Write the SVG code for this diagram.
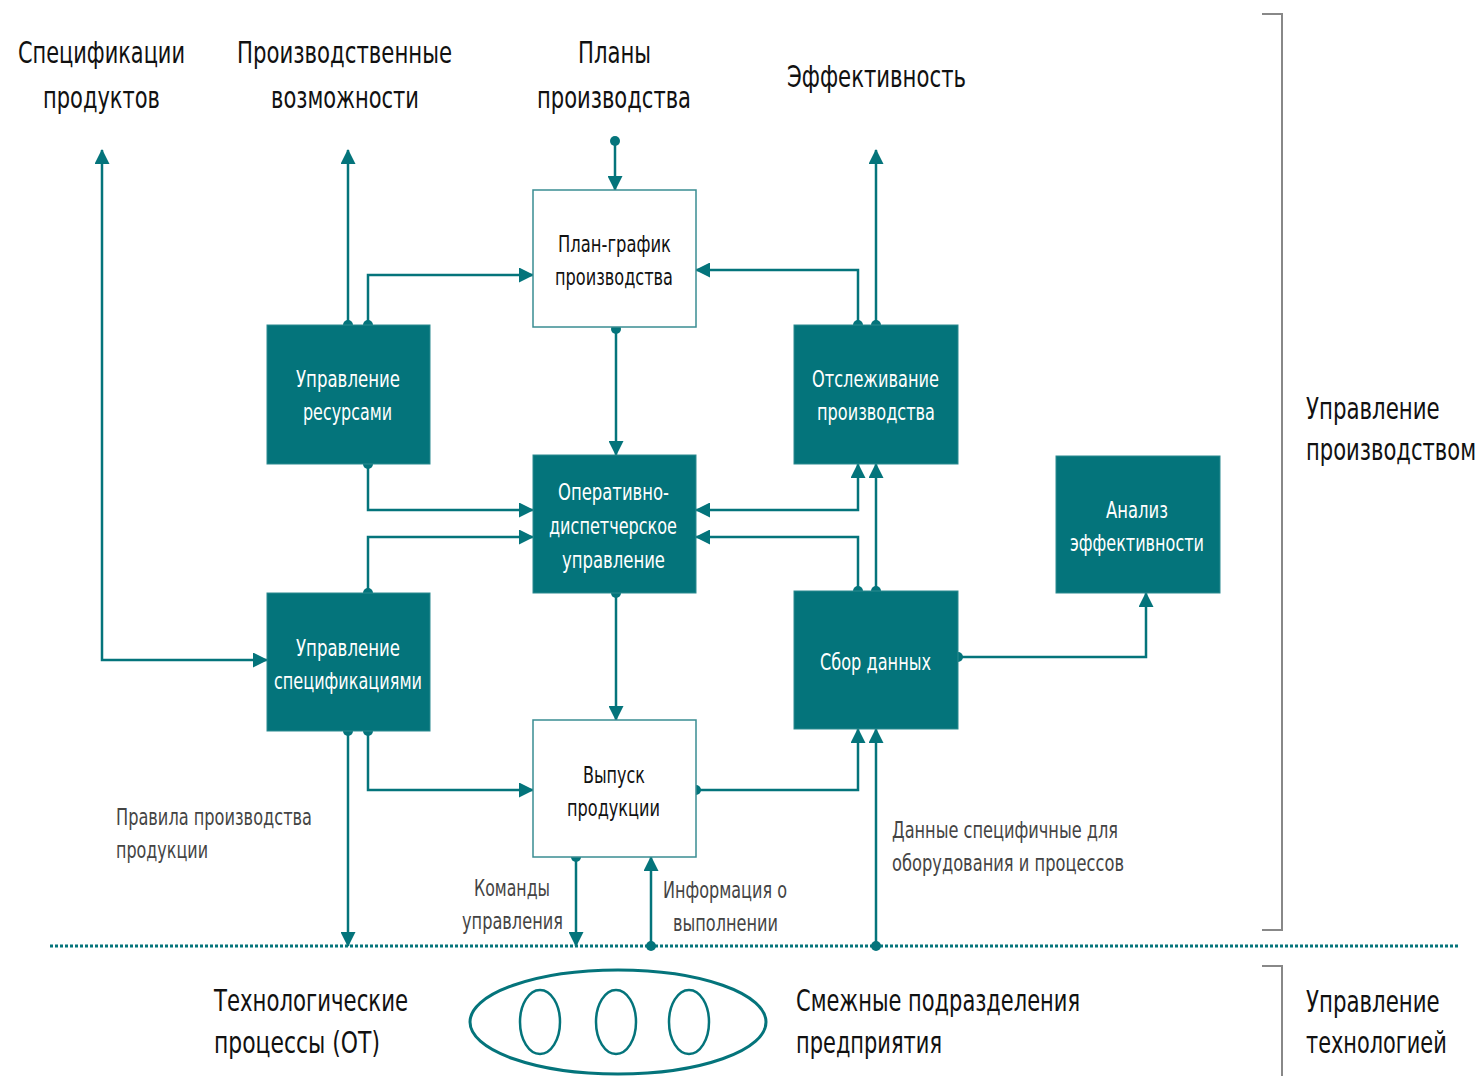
<svg xmlns="http://www.w3.org/2000/svg" width="1481" height="1076" viewBox="0 0 1481 1076">
<style>
text{font-family:"DejaVu Sans","Liberation Sans",sans-serif}
.h{font-size:30px;fill:#111}
.b{font-size:23px;fill:#fff;text-anchor:middle}
.bw{font-size:23px;fill:#111;text-anchor:middle}
.l{font-size:23px;fill:#444}
.m{text-anchor:middle}
.node{fill:#04747B;stroke:#2a8a90;stroke-width:1}
.wnode{fill:#fff;stroke:#3a8d92;stroke-width:1.5}
.c{fill:none;stroke:#04747B;stroke-width:2.5;marker-end:url(#arr)}
.d{marker-start:url(#dot)}
.a2{marker-start:url(#arrs)}
.br{fill:none;stroke:#888;stroke-width:2}
</style>
<defs>
<marker id="arr" markerUnits="userSpaceOnUse" markerWidth="15" markerHeight="15" refX="14" refY="7.5" orient="auto"><path d="M0,0 L15,7.5 L0,15 z" fill="#04747B"/></marker>
<marker id="arrs" markerUnits="userSpaceOnUse" markerWidth="15" markerHeight="15" refX="14" refY="7.5" orient="auto-start-reverse"><path d="M0,0 L15,7.5 L0,15 z" fill="#04747B"/></marker>
<marker id="dot" markerUnits="userSpaceOnUse" markerWidth="12" markerHeight="12" refX="6" refY="6" orient="auto"><circle cx="6" cy="6" r="5" fill="#04747B"/></marker>
</defs>
<rect width="1481" height="1076" fill="#fff"/>

<g id="labels">
<text class="h m" x="101.5" y="63" textLength="167" lengthAdjust="spacingAndGlyphs">Спецификации</text>
<text class="h m" x="101.5" y="108" textLength="117" lengthAdjust="spacingAndGlyphs">продуктов</text>
<text class="h m" x="344.5" y="63" textLength="215" lengthAdjust="spacingAndGlyphs">Производственные</text>
<text class="h m" x="345" y="108" textLength="148" lengthAdjust="spacingAndGlyphs">возможности</text>
<text class="h m" x="614.5" y="63" textLength="73" lengthAdjust="spacingAndGlyphs">Планы</text>
<text class="h m" x="614" y="108" textLength="154" lengthAdjust="spacingAndGlyphs">производства</text>
<text class="h m" x="876.5" y="87" textLength="179" lengthAdjust="spacingAndGlyphs">Эффективность</text>
<text class="h" transform="translate(1306,419) scale(0.7,1)" x="0" y="0" textLength="191" lengthAdjust="spacingAndGlyphs">Управление</text>
<text class="h" transform="translate(1306,460) scale(0.7,1)" x="0" y="0" textLength="243" lengthAdjust="spacingAndGlyphs">производством</text>
<text class="h" transform="translate(1306,1012) scale(0.7,1)" x="0" y="0" textLength="191" lengthAdjust="spacingAndGlyphs">Управление</text>
<text class="h" transform="translate(1306,1053) scale(0.7,1)" x="0" y="0" textLength="201" lengthAdjust="spacingAndGlyphs">технологией</text>
<text class="h" x="214" y="1011" textLength="194" lengthAdjust="spacingAndGlyphs">Технологические</text>
<text class="h" x="214" y="1053" textLength="166" lengthAdjust="spacingAndGlyphs">процессы (ОТ)</text>
<text class="h" x="796" y="1011" textLength="284" lengthAdjust="spacingAndGlyphs">Смежные подразделения</text>
<text class="h" x="796" y="1053" textLength="146" lengthAdjust="spacingAndGlyphs">предприятия</text>
<text class="l" x="116" y="825" textLength="196" lengthAdjust="spacingAndGlyphs">Правила производства</text>
<text class="l" x="116" y="858" textLength="92" lengthAdjust="spacingAndGlyphs">продукции</text>
<text class="l m" x="512" y="896" textLength="76" lengthAdjust="spacingAndGlyphs">Команды</text>
<text class="l m" x="512.5" y="929" textLength="101" lengthAdjust="spacingAndGlyphs">управления</text>
<text class="l m" x="725" y="898" textLength="124" lengthAdjust="spacingAndGlyphs">Информация о</text>
<text class="l m" x="725.5" y="931" textLength="105" lengthAdjust="spacingAndGlyphs">выполнении</text>
<text class="l" x="892" y="838" textLength="226" lengthAdjust="spacingAndGlyphs">Данные специфичные для</text>
<text class="l" x="892" y="871" textLength="232" lengthAdjust="spacingAndGlyphs">оборудования и процессов</text>
</g>

<g id="brackets">
<path class="br" d="M1262,14 H1282 V930 H1262"/>
<path class="br" d="M1262,966 H1282 V1076"/>
</g>

<g id="separator">
<line x1="50" y1="946" x2="1460" y2="946" stroke="#04747B" stroke-width="3" stroke-dasharray="3 2"/>
</g>

<g id="connectors">
<path class="c d" d="M615,141 V190"/>
<path class="c d" d="M616,329 V455"/>
<path class="c d" d="M348,325 V150"/>
<path class="c d" d="M368,325 V275 H533"/>
<path class="c d" d="M858,325 V270 H696"/>
<path class="c d" d="M876,325 V150"/>
<path class="c d" d="M368,464 V510 H533"/>
<path class="c d" d="M368,593 V537 H533"/>
<path class="c a2" d="M696,510 H858 V464"/>
<path class="c d" d="M858,591 V537 H696"/>
<path class="c d" d="M876,591 V464"/>
<path class="c d" d="M616,593 V720"/>
<path class="c d" d="M348,731 V946"/>
<path class="c d" d="M368,731 V790 H533"/>
<path class="c d" d="M696,790 H858 V729"/>
<path class="c d" d="M876,946 V729"/>
<path class="c d" d="M576,857 V946"/>
<path class="c d" d="M651,946 V857"/>
<path class="c a2" d="M102,150 V660 H267"/>
<path class="c d" d="M958,657 H1146 V593"/>
</g>

<g id="plan">
<rect class="wnode" x="533" y="190" width="163" height="137"/>
<text class="bw" x="614.5" y="252" textLength="113" lengthAdjust="spacingAndGlyphs">План-график</text>
<text class="bw" x="614" y="285" textLength="118" lengthAdjust="spacingAndGlyphs">производства</text>
</g>
<g id="resources">
<rect class="node" x="267" y="325" width="163" height="139"/>
<text class="b" x="348" y="387" textLength="104" lengthAdjust="spacingAndGlyphs">Управление</text>
<text class="b" x="347.5" y="420" textLength="89" lengthAdjust="spacingAndGlyphs">ресурсами</text>
</g>
<g id="tracking">
<rect class="node" x="794" y="325" width="164" height="139"/>
<text class="b" x="875.5" y="387" textLength="127" lengthAdjust="spacingAndGlyphs">Отслеживание</text>
<text class="b" x="876" y="420" textLength="118" lengthAdjust="spacingAndGlyphs">производства</text>
</g>
<g id="dispatch">
<rect class="node" x="533" y="455" width="163" height="138"/>
<text class="b" x="613.5" y="500" textLength="111" lengthAdjust="spacingAndGlyphs">Оперативно-</text>
<text class="b" x="613" y="534" textLength="128" lengthAdjust="spacingAndGlyphs">диспетчерское</text>
<text class="b" x="613.5" y="568" textLength="103" lengthAdjust="spacingAndGlyphs">управление</text>
</g>
<g id="analysis">
<rect class="node" x="1056" y="456" width="164" height="137"/>
<text class="b" x="1137" y="518" textLength="62" lengthAdjust="spacingAndGlyphs">Анализ</text>
<text class="b" x="1137" y="551" textLength="134" lengthAdjust="spacingAndGlyphs">эффективности</text>
</g>
<g id="specs">
<rect class="node" x="267" y="593" width="163" height="138"/>
<text class="b" x="348" y="656" textLength="104" lengthAdjust="spacingAndGlyphs">Управление</text>
<text class="b" x="348" y="689" textLength="148" lengthAdjust="spacingAndGlyphs">спецификациями</text>
</g>
<g id="collection">
<rect class="node" x="794" y="591" width="164" height="138"/>
<text class="b" x="875.5" y="670" textLength="111" lengthAdjust="spacingAndGlyphs">Сбор данных</text>
</g>
<g id="output">
<rect class="wnode" x="533" y="720" width="163" height="137"/>
<text class="bw" x="614" y="783" textLength="62" lengthAdjust="spacingAndGlyphs">Выпуск</text>
<text class="bw" x="613.5" y="816" textLength="93" lengthAdjust="spacingAndGlyphs">продукции</text>
</g>
<g id="departments" fill="none" stroke="#04747B">
<ellipse cx="618" cy="1022" rx="148" ry="52" stroke-width="3"/>
<ellipse cx="540" cy="1022" rx="20" ry="32" stroke-width="2.5"/>
<ellipse cx="616" cy="1022" rx="20" ry="32" stroke-width="2.5"/>
<ellipse cx="689" cy="1022" rx="20" ry="32" stroke-width="2.5"/>
</g>
</svg>
